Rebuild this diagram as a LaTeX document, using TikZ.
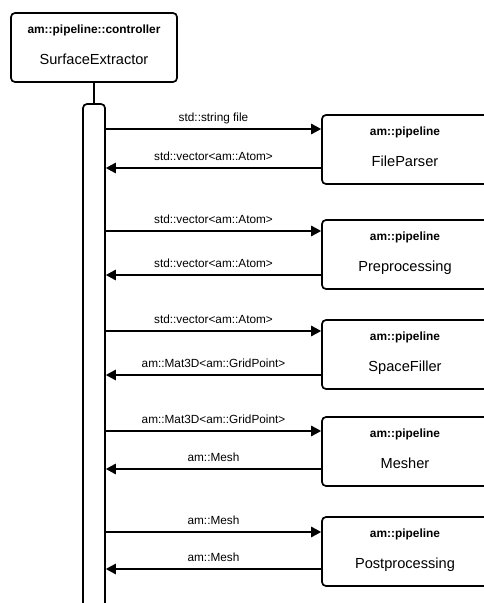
\documentclass[tikz,border=0pt]{standalone}
\usepackage{fontspec}
\setmainfont{Liberation Sans}
\usetikzlibrary{arrows.meta,calc}

\tikzset{
  comp/.style={draw, line width=1.7pt, rounded corners=4pt, minimum width=166pt,
    minimum height=69pt, inner sep=0pt, fill=white},
  pkg/.style={font=\fontsize{11.9}{13}\selectfont\bfseries, anchor=base, inner sep=0pt},
  cname/.style={font=\fontsize{14.6}{17}\selectfont, anchor=base, inner sep=0pt},
  msg/.style={line width=1.3pt, -{Triangle[length=10pt,width=10.5pt]}},
  msglabel/.style={font=\fontsize{11.8}{13}\selectfont, anchor=base, inner sep=0pt, yshift=8pt},
  activation/.style={draw, line width=1.7pt, rounded corners=4pt, minimum width=22pt,
    minimum height=520pt, inner sep=0pt},
}

\begin{document}
\begin{tikzpicture}[x=1pt,y=-1pt]
  \useasboundingbox (0,0) rectangle (483,603);

  % controller component
  \node[comp] (se) at (94,47.5) {};
  \node[pkg] (se-pkg) at ($(se.north)+(0,21)$) {am::pipeline::controller};
  \node[cname] (se-name) at ($(se.north)+(0,52)$) {SurfaceExtractor};

  % activation bar of the controller
  \node[activation] (bar) at (94,364) {};
  \draw[line width=1.3pt] (se.south) -- (bar.north);

  % pipeline stages
  \foreach \id/\top/\name in {fp/115/FileParser, pre/220/Preprocessing,
      sf/320/SpaceFiller, me/417/Mesher, pp/517/Postprocessing} {
    \node[comp] (\id) at (405,\top+34.5) {};
    \node[pkg] (\id-pkg) at ($(\id.north)+(0,21.5)$) {am::pipeline};
    \node[cname] (\id-name) at ($(\id.north)+(0,52)$) {\name};
  }

  % calls and returns
  \draw[msg] (bar.east |- 0,129) -- node[msglabel]{std::string file} (fp.west |- 0,129);
  \draw[msg] (fp.west |- 0,168) -- node[msglabel]{std::vector<am::Atom>} (bar.east |- 0,168);

  \draw[msg] (bar.east |- 0,231) -- node[msglabel]{std::vector<am::Atom>} (pre.west |- 0,231);
  \draw[msg] (pre.west |- 0,275) -- node[msglabel]{std::vector<am::Atom>} (bar.east |- 0,275);

  \draw[msg] (bar.east |- 0,331) -- node[msglabel]{std::vector<am::Atom>} (sf.west |- 0,331);
  \draw[msg] (sf.west |- 0,375) -- node[msglabel]{am::Mat3D<am::GridPoint>} (bar.east |- 0,375);

  \draw[msg] (bar.east |- 0,431) -- node[msglabel]{am::Mat3D<am::GridPoint>} (me.west |- 0,431);
  \draw[msg] (me.west |- 0,469) -- node[msglabel]{am::Mesh} (bar.east |- 0,469);

  \draw[msg] (bar.east |- 0,532) -- node[msglabel]{am::Mesh} (pp.west |- 0,532);
  \draw[msg] (pp.west |- 0,569) -- node[msglabel]{am::Mesh} (bar.east |- 0,569);
\end{tikzpicture}
\end{document}
